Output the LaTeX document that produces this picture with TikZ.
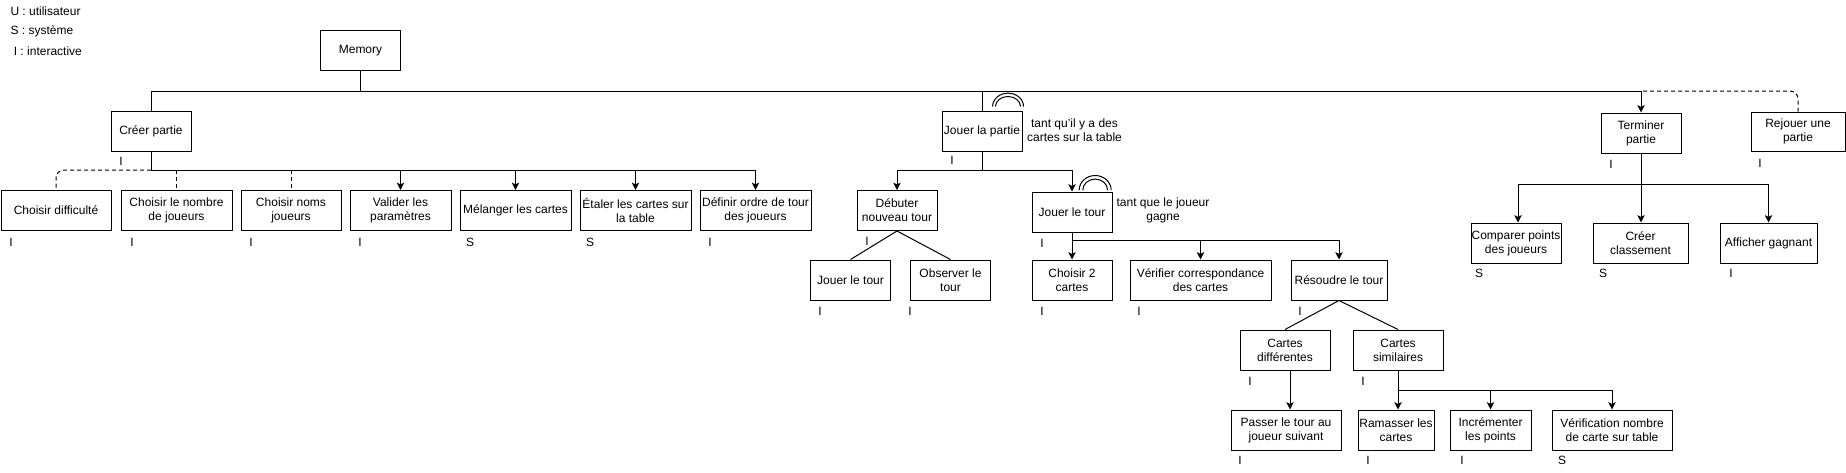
\documentclass[tikz,border=0pt]{standalone}
\usepackage{fontspec}
\setmainfont{Liberation Sans}
\usetikzlibrary{arrows.meta}
\begin{document}
\begin{tikzpicture}[x=0.75pt,y=-0.75pt,
  line width=0.75pt,
  bx/.style n args={2}{draw, line width=0.75pt, inner sep=0pt, align=center,
     minimum width={#1*0.75pt}, minimum height={#2*0.75pt},
     font=\fontsize{9}{10.5}\selectfont},
  lbl/.style={inner sep=0pt, font=\fontsize{9}{10.5}\selectfont},
  txt/.style={inner sep=0pt, align=center, font=\fontsize{9}{10.5}\selectfont},
  arr/.style={-{Stealth[length=5.5pt,width=5.5pt,inset=1.3pt]}},
  dsh/.style={dashed, dash pattern=on 3pt off 2.25pt}
]
\useasboundingbox (0,0) rectangle (1846,472);

% legend
\node[lbl, anchor=west] (legU) at (10,11) {U : utilisateur};
\node[lbl, anchor=west] (legS) at (10,31.5) {S : système};
\node[lbl, anchor=west] (legI) at (10,51.5) {\ I : interactive};

% nodes
\node[bx={80}{40}] (memory) at (360.5,50.5) {Memory};
\node[bx={80}{40}] (creer) at (151,131) {Créer partie};

\node[bx={110}{40}] (diff) at (56,210.5) {Choisir difficulté};
\node[bx={111}{40}] (nombre) at (176.5,210.5) {Choisir le nombre\\de joueurs};
\node[bx={100}{40}] (noms) at (291,210.5) {Choisir noms\\joueurs};
\node[bx={101}{40}] (valider) at (400.5,210.5) {Valider les\\paramètres};
\node[bx={111}{40}] (melanger) at (515.5,210.5) {Mélanger les cartes};
\node[bx={111}{40}] (etaler) at (635.5,210.5) {Étaler les cartes sur\\la table};
\node[bx={111}{40}] (definir) at (755.5,210.5) {Définir ordre de tour\\des joueurs};

\node[bx={80}{40}] (jpartie) at (982,131) {Jouer la partie};
\node[bx={80}{40}] (debuter) at (897,210.5) {Débuter\\nouveau tour};
\node[bx={80}{40}] (jtour) at (1072,212) {Jouer le tour};
\node[bx={80}{40}] (jtour2) at (850.5,280) {Jouer le tour};
\node[bx={80}{40}] (observer) at (950.5,280) {Observer le\\tour};
\node[bx={80}{40}] (choisir2) at (1072,280) {Choisir 2\\cartes};
\node[bx={141}{40}] (verifier) at (1200.5,280) {Vérifier correspondance\\des cartes};
\node[bx={96}{40}] (resoudre) at (1339,280) {Résoudre le tour};
\node[bx={90}{40}] (cdiff) at (1285,350) {Cartes\\différentes};
\node[bx={90}{40}] (csim) at (1398,350) {Cartes\\similaires};
\node[bx={110}{40}] (passer) at (1286,430) {Passer le tour au\\joueur suivant};
\node[bx={76}{40}] (ramasser) at (1396,430) {Ramasser les\\cartes};
\node[bx={81}{40}] (incrementer) at (1490.5,430) {Incrémenter\\les points};
\node[bx={120}{40}] (verification) at (1612,430) {Vérification nombre\\de carte sur table};

\node[bx={80}{40}] (terminer) at (1641,133) {Terminer\\partie};
\node[bx={94}{39}] (rejouer) at (1798,131.5) {Rejouer une\\partie};
\node[bx={90}{40}] (comparer) at (1516,243) {Comparer points\\des joueurs};
\node[bx={95}{40}] (classement) at (1640.5,243) {Créer\\classement};
\node[bx={97}{40}] (afficher) at (1768.5,243) {Afficher gagnant};

% condition texts
\node[txt] (cond1) at (1074.5,130) {tant qu'il y a des\\cartes sur la table};
\node[txt] (cond2) at (1163,210.5) {tant que le joueur\\gagne};

% type labels
\node[lbl] (l1) at (121,161) {I};
\node[lbl] (l2) at (11,242) {I};
\node[lbl] (l3) at (132,242) {I};
\node[lbl] (l4) at (251,242) {I};
\node[lbl] (l5) at (360,242) {I};
\node[lbl] (l6) at (470,242) {S};
\node[lbl] (l7) at (590,242) {S};
\node[lbl] (l8) at (710,242) {I};
\node[lbl] (l9) at (952,160) {I};
\node[lbl] (l10) at (867,241) {I};
\node[lbl] (l11) at (1042,243) {I};
\node[lbl] (l12) at (820,311) {I};
\node[lbl] (l13) at (910,311) {I};
\node[lbl] (l14) at (1042,311) {I};
\node[lbl] (l15) at (1139,311) {I};
\node[lbl] (l16) at (1300,311) {I};
\node[lbl] (l17) at (1250,381) {I};
\node[lbl] (l18) at (1363,381) {I};
\node[lbl] (l19) at (1240,460) {I};
\node[lbl] (l20) at (1368,460) {I};
\node[lbl] (l21) at (1462,460) {I};
\node[lbl] (l22) at (1562,460) {S};
\node[lbl] (l23) at (1611,164) {I};
\node[lbl] (l24) at (1760,163) {I};
\node[lbl] (l25) at (1479,273) {S};
\node[lbl] (l26) at (1603,273) {S};
\node[lbl] (l27) at (1731,273) {I};

% top level
\draw (memory.south) -- (memory.south |- 0,91);
\draw[arr] (creer.north) -- (creer.north |- 0,91) -- (terminer.north |- 0,91) -- (terminer.north);
\draw (jpartie.north) -- (jpartie.north |- 0,91);
\draw[dsh, rounded corners=6pt] (rejouer.north) |- (terminer.north |- 0,91);

% Créer partie
\draw (creer.south) -- (creer.south |- 0,170) -- (definir.north |- 0,170);
\draw[dsh, rounded corners=6pt] (creer.south |- 0,170) -| (diff.north);
\draw[dsh] (nombre.north |- 0,170) -- (nombre.north);
\draw[dsh] (noms.north |- 0,170) -- (noms.north);
\draw[arr] (valider.north |- 0,170) -- (valider.north);
\draw[arr] (melanger.north |- 0,170) -- (melanger.north);
\draw[arr] (etaler.north |- 0,170) -- (etaler.north);
\draw[arr] (definir.north |- 0,170) -- (definir.north);

% Jouer la partie
\draw[arr] (jpartie.south) -- (jpartie.south |- 0,170) -| (debuter.north);
\draw[arr] (jpartie.south |- 0,170) -| (jtour.north);
\draw (debuter.south) -- (jtour2.north);
\draw (debuter.south) -- (observer.north);

% loops
\draw ([xshift=0.75pt,yshift=3pt]jpartie.north east) arc[start angle=0,end angle=180,x radius=11.6pt,y radius=10pt];
\draw ([xshift=-1.5pt,yshift=3pt]jpartie.north east) arc[start angle=0,end angle=180,x radius=9.4pt,y radius=7.5pt];
\draw ([xshift=-1pt,yshift=1pt]jtour.north east) arc[start angle=0,end angle=180,x radius=12pt,y radius=11pt];
\draw ([xshift=-3.7pt,yshift=1pt]jtour.north east) arc[start angle=0,end angle=180,x radius=9.3pt,y radius=8.3pt];

% Jouer le tour
\draw[arr] (jtour.south) -- (choisir2.north);
\draw (jtour.south |- 0,240) -- (resoudre.north |- 0,240);
\draw[arr] (verifier.north |- 0,240) -- (verifier.north);
\draw[arr] (resoudre.north |- 0,240) -- (resoudre.north);

% Résoudre
\draw (resoudre.south) -- (cdiff.north);
\draw (resoudre.south) -- (csim.north);
\draw[arr] ([xshift=3.75pt]cdiff.south) -- ([xshift=3.75pt]cdiff.south |- passer.north);
\draw[arr] (csim.south) -- (csim.south |- ramasser.north);
\draw (csim.south |- 0,390) -- (verification.north |- 0,390);
\draw[arr] (incrementer.north |- 0,390) -- (incrementer.north);
\draw[arr] (verification.north |- 0,390) -- (verification.north);

% Terminer
\draw (terminer.south) -- (terminer.south |- 0,184);
\draw[arr] (terminer.south |- 0,184) -| ([xshift=1.5pt]comparer.north);
\draw[arr] (terminer.south |- 0,184) -- (classement.north -| terminer.south);
\draw[arr] (terminer.south |- 0,184) -| (afficher.north);
\end{tikzpicture}
\end{document}
